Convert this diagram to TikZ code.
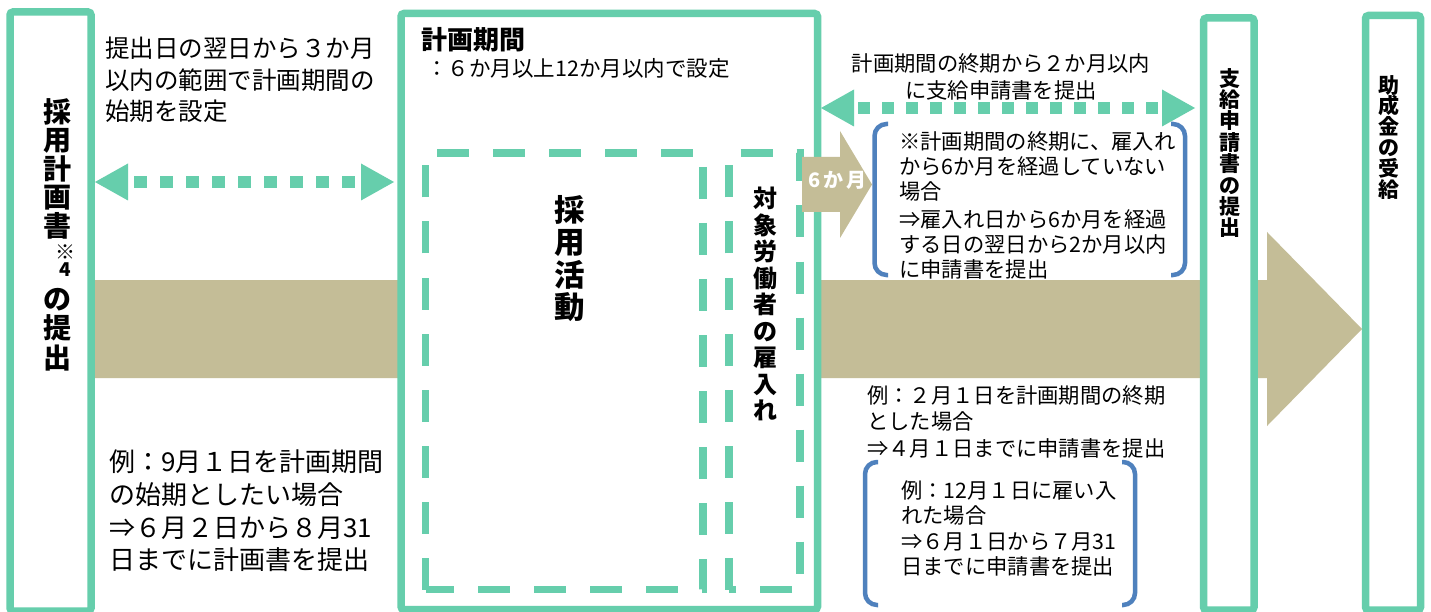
\documentclass[tikz,border=0pt]{standalone}
\usepackage{fontspec}
\setmainfont{Noto Sans CJK JP}
\usetikzlibrary{arrows.meta}
\definecolor{tgreen}{RGB}{102,206,172}
\definecolor{tbrown}{RGB}{196,189,151}
\definecolor{tblue}{RGB}{79,129,189}
\newcommand\myfs[2]{\fontsize{#1}{#2}\selectfont\lineskiplimit=-50pt\lineskip=0pt}
\tikzset{
  gbox/.style={draw=tgreen, line width=7.5pt, fill=white, rounded corners=3pt, inner sep=0pt},
  dbox/.style={draw=tgreen, line width=7.5pt, dash pattern=on 32pt off 24pt, line cap=butt},
  dotarrow/.style={draw=tgreen, line width=12pt, line cap=butt,
    {Triangle[length=33pt,width=37pt,line width=0pt]}-{Triangle[length=33pt,width=37pt,line width=0pt]}},
  bracket/.style={draw=tblue, line width=4.5pt, rounded corners=12pt},
  txt/.style={inner sep=0pt, anchor=north west, align=left},
  vtxt/.style={inner sep=0pt, anchor=north, align=center},
}
\begin{document}
\begin{tikzpicture}[x=1pt,y=-1pt]
\useasboundingbox (0,0) rectangle (1431,612);
\fill[white] (0,0) rectangle (1431,612);
% main band arrow
\fill[tbrown] (91,280) -- (1267,280) -- (1267,232) -- (1362,329) -- (1267,426) -- (1267,378) -- (91,378) -- cycle;
% boxes
\node[gbox, minimum width=81pt, minimum height=599pt] (lbox) at (50.5,311.5) {};
\node[gbox, minimum width=416.5pt, minimum height=596pt] (mbox) at (609.25,311.5) {};
\node[gbox, minimum width=50.5pt, minimum height=592pt] (sbox) at (1228.75,314) {};
\node[gbox, minimum width=55pt, minimum height=594.5pt] (jbox) at (1393,312.75) {};
% dashed rectangles
\draw[dbox] (425.5,589.5) -- (425.5,153) -- (703,153) -- (703,589.5) -- cycle;
\draw[dbox] (729,589.5) -- (729,153) -- (800,153) -- (800,589.5) -- cycle;
% 6 months arrow
\fill[tbrown] (802,157) -- (840,157) -- (840,131) -- (872,184.5) -- (840,238) -- (840,212) -- (802,212) -- cycle;
\node[inner sep=0pt, font=\myfs{20}{20}\bfseries, text=white] (six) at (837.5,180.5) {6\hspace{2.5pt}か\hspace{2.5pt}月};
% dotted double arrows
\coordinate (la) at (95,182);
\coordinate (lb) at (394,182);
\draw[dotarrow, dash pattern=on 13pt off 13pt, dash phase=20pt] (la) -- (lb);
\coordinate (ra) at (821,108);
\coordinate (rb) at (1195,108);
\draw[dotarrow, dash pattern=on 12pt off 12pt, dash phase=20pt] (ra) -- (rb);
% brackets
\draw[bracket] (888,124) -- (874.5,124) -- (874.5,275) -- (888,275);
\draw[bracket] (1171,124) -- (1185,124) -- (1185,275) -- (1171,275);
\draw[bracket] (878,462) -- (865,462) -- (865,605) -- (878,605);
\draw[bracket] (1122,462) -- (1135,462) -- (1135,605) -- (1122,605);
% texts
\node[txt, font=\myfs{24.5}{31.5}] (t1) at (105,37) {提出日の翌日から３か月\\以内の範囲で計画期間の\\始期を設定};
\node[txt, font=\myfs{26}{26}\bfseries] (mtitle) at (421,27) {計画期間};
\node[txt, font=\myfs{21.5}{21.5}] (msub) at (426,58) {：６か月以上12か月以内で設定};
\node[inner sep=0pt, anchor=north, align=center, font=\myfs{21.3}{27}] (tr) at (1001,53) {計画期間の終期から２か月以内\\に支給申請書を提出};
\node[txt, font=\myfs{21.3}{25}] (b1t) at (899,131.5) {※計画期間の終期に、雇入れ\\から6か月を経過していない\\場合\\[3.3pt]⇒雇入れ日から6か月を経過\\する日の翌日から2か月以内\\に申請書を提出};
\node[txt, font=\myfs{21.3}{26.5}] (brt) at (867,385) {例：２月１日を計画期間の終期\\とした場合\\⇒４月１日までに申請書を提出};
\node[txt, font=\myfs{21.3}{25.6}] (b2t) at (901,480) {例：12月１日に雇い入\\れた場合\\⇒６月１日から７月31\\日までに申請書を提出};
\node[txt, font=\myfs{26}{32.6}] (blt) at (109,450) {例：9月１日を計画期間\\の始期としたい場合\\⇒６月２日から８月31\\日までに計画書を提出};
% vertical texts
\node[vtxt, font=\myfs{28}{28.6}\bfseries] (v1) at (57.5,98) {採\\用\\計\\画\\書};
\node[inner sep=0pt, font=\myfs{20}{20}] (v1a) at (65.5,252.5) {※};
\node[inner sep=0pt, font=\myfs{19}{19}\bfseries] (v1b) at (65.5,270) {4};
\node[vtxt, font=\myfs{28}{29.5}\bfseries] (v1c) at (57.5,288) {の\\提\\出};
\node[vtxt, font=\myfs{30.5}{32.4}\bfseries] (v2) at (570,195) {採\\用\\活\\動};
\node[vtxt, font=\myfs{24}{26.5}\bfseries] (v3) at (765,187) {対\\象\\労\\働\\者\\の\\雇\\入\\れ};
\node[vtxt, font=\myfs{21}{21.4}\bfseries] (v4) at (1229.5,68) {支\\給\\申\\請\\書\\の\\提\\出};
\node[vtxt, font=\myfs{21}{20.8}\bfseries] (v5) at (1388.5,75) {助\\成\\金\\の\\受\\給};
\end{tikzpicture}
\end{document}
